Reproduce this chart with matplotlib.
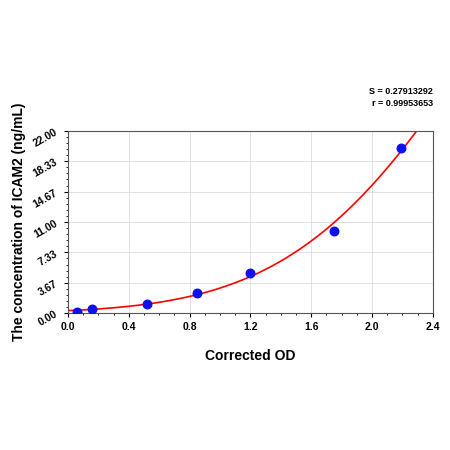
import numpy as np
import matplotlib
matplotlib.use("Agg")
import matplotlib.pyplot as plt
from matplotlib.ticker import MultipleLocator, AutoMinorLocator

od = [0.06, 0.16, 0.52, 0.85, 1.20, 1.75, 2.19]
conc = [0.20, 0.45, 1.10, 2.40, 4.90, 9.90, 20.00]
yticks = [0.00, 3.67, 7.33, 11.00, 14.67, 18.33, 22.00]
xticks = [0.0, 0.4, 0.8, 1.2, 1.6, 2.0, 2.4]

plt.rcParams['font.family'] = ['Liberation Sans', 'DejaVu Sans']
fig = plt.figure(figsize=(4.5, 4.5), dpi=100)
ax = fig.add_axes([0.151, 0.304, 0.811, 0.405])

# smooth fit through the standards (weighted toward upper points)
coef = np.polyfit(od, np.log(conc), 2, w=np.sqrt(conc))
xs = np.linspace(0, 2.4, 400)
ys = np.exp(np.polyval(coef, xs))
m = ys <= 22.5
ax.plot(xs[m], ys[m], color='red', lw=1.2, zorder=2)
ax.scatter(od, conc, s=38, color='#1010ee', zorder=3)

ax.set_xlim(0, 2.4)
ax.set_ylim(0, 22)
ax.set_xticks(xticks)
ax.set_yticks(yticks)
ax.set_xticklabels([f"{v:.1f}" for v in xticks], fontsize=7.5, fontweight='bold')
ax.set_yticklabels([f"{v:.2f}" for v in yticks], fontsize=7.5, fontweight='bold', rotation=30)
ax.xaxis.set_minor_locator(MultipleLocator(0.1))
ax.yaxis.set_minor_locator(AutoMinorLocator(5))
ax.tick_params(which='major', length=3)
ax.tick_params(which='minor', length=1.5)
ax.grid(True, which='major', color='#dddddd', lw=0.6)
ax.set_axisbelow(True)
for s in ax.spines.values():
    s.set_color('#555555'); s.set_linewidth(0.8)

ax.set_xlabel('Corrected OD', fontsize=10, fontweight='bold', labelpad=12)
ax.set_ylabel('The concentration of ICAM2 (ng/mL)', fontsize=10, fontweight='bold', labelpad=4)
fig.text(0.962, 0.76, 'S = 0.27913292\nr = 0.99953653', ha='right', va='bottom',
         fontsize=6.5, fontweight='bold', linespacing=1.4)
fig.savefig('out.png', dpi=100)
